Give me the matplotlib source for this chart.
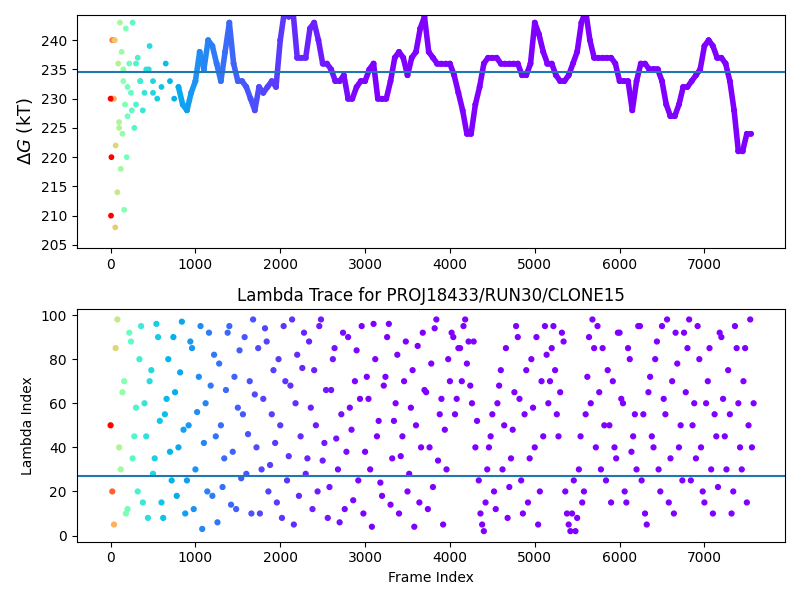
import numpy as np
import matplotlib
matplotlib.use("Agg")
import matplotlib.pyplot as plt
from matplotlib.colors import LogNorm

# free energy trace, sampled every 50 frames
dg_values = [230, 240, 225, 235, 232, 228, 236, 233, 231, 235, 233, 230, 232, 236, 233, 230,
             232, 229, 228, 231, 233, 238, 235, 240, 239, 236, 233, 238, 243, 236, 233, 233,
             232, 230, 228, 232, 231, 232, 233, 232, 240, 245, 244, 245, 237, 237, 237, 242,
             243, 240, 236, 236, 235, 233, 233, 234, 230, 230, 232, 233, 233, 235, 236, 230,
             230, 230, 233, 237, 238, 237, 234, 237, 238, 242, 244, 238, 237, 236, 236, 236,
             236, 234, 231, 228, 224, 224, 229, 232, 236, 237, 237, 237, 236, 236, 236, 236,
             236, 234, 234, 236, 243, 241, 238, 236, 236, 234, 233, 233, 234, 236, 238, 243,
             245, 240, 237, 237, 237, 237, 237, 236, 233, 233, 233, 228, 233, 236, 236, 235,
             235, 235, 233, 229, 227, 227, 229, 232, 232, 233, 234, 235, 239, 240, 239, 237,
             237, 236, 233, 228, 221, 221, 224, 224]
dg_frames = [50 * i for i in range(len(dg_values))]
# scattered early estimates
early_frames = [5, 10, 15, 20, 30, 40, 55, 60, 70, 80, 90, 100, 110, 120, 130, 140, 150, 160,
                170, 180, 190, 200, 220, 240, 260, 280, 300, 320, 350, 380, 420, 460, 500]
early_values = [210, 220, 230, 240, 240, 230, 208, 222, 245, 214, 236, 226, 243, 218, 238, 224,
                233, 211, 229, 242, 220, 227, 236, 231, 243, 225, 229, 237, 233, 228, 235, 239, 231]
dg_mean = 234.6

# lambda index, sampled every 40 frames (two interleaved passes, offset 20 frames)
lam_values = [50, 5, 98, 30, 70, 12, 88, 45, 20, 95, 60, 8, 75, 35, 90, 15, 55, 80, 25, 65,
              40, 97, 10, 50, 85, 30, 72, 3, 60, 92, 18, 45, 78, 22, 66, 95, 38, 12, 84, 55,
              28, 70, 98, 40, 10, 62, 88, 32, 75, 15, 50, 95, 25, 68, 5, 82, 45, 92, 35, 58,
              75, 20, 98, 42, 8, 66, 85, 30, 55, 12, 90, 48, 70, 25, 95, 38, 62, 4, 80, 52,
              18, 72, 96, 35, 60, 10, 45, 88, 28, 75, 50, 15, 92, 65, 40, 22, 98, 55, 5, 30,
              70, 90, 62, 85, 95, 78, 68, 88, 52, 10, 2, 30, 45, 20, 60, 75, 50, 8, 35, 65,
              90, 25, 55, 15, 80, 40, 5, 70, 95, 60, 85, 75, 45, 92, 20, 5, 10, 2, 30, 15,
              55, 90, 98, 40, 65, 85, 25, 50, 70, 35, 92, 60, 15, 80, 45, 30, 95, 55, 5, 72,
              40, 88, 20, 62, 98, 35, 10, 78, 50, 92, 85, 25, 60, 95, 40, 15, 70, 30, 55, 22,
              90, 45, 75, 10, 95, 60, 30, 85, 50, 40]
lam_values_b = [20, 85, 40, 65, 10, 92, 35, 58, 80, 15, 45, 70, 28, 96, 52, 8, 62, 38, 90, 18,
                74, 48, 25, 88, 12, 56, 95, 42, 20, 68, 82, 6, 50, 35, 92, 14, 72, 58, 26, 90,
                46, 10, 64, 85, 30, 94, 20, 55, 42, 80, 8, 70, 36, 98, 60, 18, 76, 28, 88, 12,
                50, 95, 34, 66, 22, 80, 44, 6, 92, 38, 58, 16, 84, 62, 10, 72, 30, 96, 45, 24,
                68, 90, 14, 52, 82, 36, 70, 20, 58, 4, 86, 40, 66, 12, 78, 94, 34, 62, 48, 80,
                92, 55, 85, 70, 98, 88, 60, 40, 25, 5, 15, 40, 55, 12, 68, 30, 85, 22, 48, 95,
                62, 10, 75, 35, 58, 90, 20, 45, 82, 70, 95, 55, 65, 88, 10, 2, 25, 8, 45, 20,
                72, 60, 85, 95, 30, 50, 75, 15, 40, 92, 62, 20, 85, 38, 55, 95, 25, 10, 65, 45,
                80, 30, 95, 55, 15, 70, 92, 40, 25, 65, 98, 50, 35, 80, 20, 60, 85, 10, 45, 92,
                62, 30, 55, 20, 85, 40, 70, 15, 98, 60]
lam_frames = [40 * i for i in range(len(lam_values))]
lam_frames_b = [40 * i + 20 for i in range(len(lam_values_b))]
lam_mean = 27

norm = LogNorm(vmin=10, vmax=3000, clip=True)
cmap = plt.get_cmap("rainbow_r")

fig, (ax1, ax2) = plt.subplots(2, 1, figsize=(8, 6))

f_all = np.array(early_frames + dg_frames)
v_all = np.array(early_values + dg_values)
ax1.scatter(f_all, v_all, c=np.clip(f_all, 10, None), cmap=cmap, norm=norm, s=10)
lf = np.array([f for f in dg_frames if f >= 800])
lv = np.array([v for f, v in zip(dg_frames, dg_values) if f >= 800])
for i in range(len(lf) - 1):
    ax1.plot(lf[i:i + 2], lv[i:i + 2], color=cmap(norm(lf[i])), lw=4, solid_capstyle="round")
ax1.axhline(dg_mean, color="C0")
ax1.set_ylim(204.5, 244.3)
ax1.set_ylabel(r"$\Delta G$ (kT)", fontsize=13)

lf2 = np.array(lam_frames + lam_frames_b)
lv2 = np.array(lam_values + lam_values_b)
ax2.scatter(lf2, lv2, c=np.clip(lf2, 10, None), cmap=cmap, norm=norm, s=12)
ax2.axhline(lam_mean, color="C0")
ax2.set_title("Lambda Trace for PROJ18433/RUN30/CLONE15")
ax2.set_xlabel("Frame Index")
ax2.set_ylabel("Lambda Index")

for ax in (ax1, ax2):
    ax.set_xlim(-400, 7950)

fig.tight_layout()
fig.savefig("out.png", dpi=100)
